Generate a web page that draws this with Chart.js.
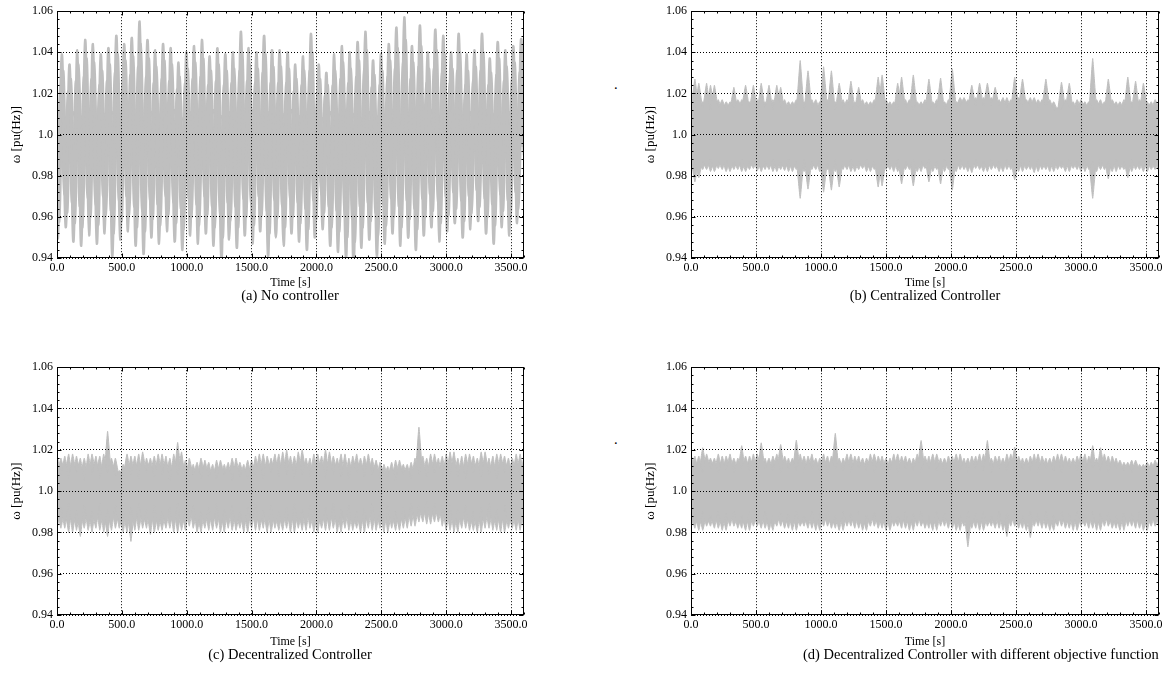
<!DOCTYPE html>
<html>
<head>
<meta charset="utf-8">
<script src="https://cdn.jsdelivr.net/npm/chart.js@4.4.1/dist/chart.umd.min.js"></script>
<style>
  html, body { margin: 0; padding: 0; background: #fff; width: 1163px; height: 688px; overflow: hidden; }
  .panel { position: absolute; }
  .cap { position: absolute; font: 14.5px "Liberation Serif", serif; line-height: 16px; white-space: nowrap; color: #000; }
</style>
</head>
<body>
<div class="panel" style="left:0px;top:0px;width:540px;height:292px"><canvas id="chartA"></canvas></div>
<div class="panel" style="left:634px;top:0px;width:545px;height:292px"><canvas id="chartB"></canvas></div>
<div class="panel" style="left:0px;top:356px;width:540px;height:295px"><canvas id="chartC"></canvas></div>
<div class="panel" style="left:634px;top:356px;width:545px;height:295px"><canvas id="chartD"></canvas></div>

<div class="cap" style="left:140px;top:287px;width:300px;text-align:center" id="capA"></div>
<div class="cap" style="left:775px;top:287px;width:300px;text-align:center" id="capB"></div>
<div class="cap" style="left:140px;top:646px;width:300px;text-align:center" id="capC"></div>
<div class="cap" style="left:803px;top:646px" id="capD"></div>
<div class="cap" style="left:614px;top:76px">.</div>
<div class="cap" style="left:614px;top:431px">.</div>

<script>
const captions = ["(a) No controller", "(b) Centralized Controller", "(c) Decentralized Controller",
  "(d) Decentralized Controller with different objective function"];
const xTicks = [0, 500, 1000, 1500, 2000, 2500, 3000, 3500];
const yTicks = [0.94, 0.96, 0.98, 1.0, 1.02, 1.04, 1.06];
const xTitle = "Time [s]";
const yTitle = "ω [pu(Hz)]";

// (a) no controller: troughs / peaks of the swing, read per cycle
const timeA = [0, 7, 37, 67, 97, 127, 157, 187, 217, 247, 277, 307, 337, 367, 397, 427, 457, 487, 517, 547, 577,
  607, 637, 667, 697, 727, 757, 787, 817, 847, 877, 907, 937, 967, 997, 1027, 1057, 1087, 1117, 1147, 1177,
  1207, 1237, 1267, 1297, 1327, 1357, 1387, 1417, 1447, 1477, 1507, 1537, 1567, 1597, 1627, 1657, 1687, 1717, 1747, 1777,
  1807, 1837, 1867, 1897, 1927, 1957, 1987, 2017, 2047, 2077, 2107, 2137, 2167, 2197, 2227, 2257, 2287, 2317, 2347, 2377,
  2407, 2437, 2467, 2497, 2527, 2557, 2587, 2617, 2647, 2677, 2707, 2737, 2767, 2797, 2827, 2857, 2887, 2917, 2947, 2977,
  3007, 3037, 3067, 3097, 3127, 3157, 3187, 3217, 3247, 3277, 3307, 3337, 3367, 3397, 3427, 3457, 3487, 3517, 3547, 3577, 3600];
// generators that swing a little later / earlier
const timeB = [0, 17, 47, 77, 107, 137, 167, 197, 227, 257, 287, 317, 347, 377, 407, 437, 467, 497, 527, 557, 587,
  617, 647, 677, 707, 737, 767, 797, 827, 857, 887, 917, 947, 977, 1007, 1037, 1067, 1097, 1127, 1157, 1187,
  1217, 1247, 1277, 1307, 1337, 1367, 1397, 1427, 1457, 1487, 1517, 1547, 1577, 1607, 1637, 1667, 1697, 1727, 1757, 1787,
  1817, 1847, 1877, 1907, 1937, 1967, 1997, 2027, 2057, 2087, 2117, 2147, 2177, 2207, 2237, 2267, 2297, 2327, 2357, 2387,
  2417, 2447, 2477, 2507, 2537, 2567, 2597, 2627, 2657, 2687, 2717, 2747, 2777, 2807, 2837, 2867, 2897, 2927, 2957, 2987,
  3017, 3047, 3077, 3107, 3137, 3167, 3197, 3227, 3257, 3287, 3317, 3347, 3377, 3407, 3437, 3467, 3497, 3527, 3557, 3587, 3600];
const timeC = [-10, -3, 27, 57, 87, 117, 147, 177, 207, 237, 267, 297, 327, 357, 387, 417, 447, 477, 507, 537, 567,
  597, 627, 657, 687, 717, 747, 777, 807, 837, 867, 897, 927, 957, 987, 1017, 1047, 1077, 1107, 1137, 1167,
  1197, 1227, 1257, 1287, 1317, 1347, 1377, 1407, 1437, 1467, 1497, 1527, 1557, 1587, 1617, 1647, 1677, 1707, 1737, 1767,
  1797, 1827, 1857, 1887, 1917, 1947, 1977, 2007, 2037, 2067, 2097, 2127, 2157, 2187, 2217, 2247, 2277, 2307, 2337, 2367,
  2397, 2427, 2457, 2487, 2517, 2547, 2577, 2607, 2637, 2667, 2697, 2727, 2757, 2787, 2817, 2847, 2877, 2907, 2937, 2967,
  2997, 3027, 3057, 3087, 3117, 3147, 3177, 3207, 3237, 3267, 3297, 3327, 3357, 3387, 3417, 3447, 3477, 3507, 3537, 3567, 3590];

const a1 = [1.000,
  0.950,1.039, 0.955,1.034, 0.948,1.041, 0.946,1.046, 0.951,1.044, 0.947,1.039, 0.952,1.042, 0.941,1.048, 0.949,1.044, 0.953,1.047,
  0.946,1.055, 0.942,1.046, 0.950,1.041, 0.947,1.044, 0.953,1.042, 0.948,1.035, 0.944,1.040, 0.951,1.043, 0.947,1.046, 0.952,1.038,
  0.946,1.042, 0.938,1.039, 0.949,1.040, 0.945,1.050, 0.951,1.042, 0.947,1.040, 0.953,1.048, 0.941,1.041, 0.950,1.041, 0.946,1.040,
  0.952,1.034, 0.948,1.038, 0.944,1.049, 0.950,1.034, 0.954,1.030, 0.946,1.039, 0.943,1.043, 0.939,1.040, 0.936,1.045, 0.945,1.050,
  0.949,1.036, 0.940,1.039, 0.947,1.044, 0.952,1.052, 0.946,1.057, 0.950,1.043, 0.944,1.053, 0.951,1.040, 0.955,1.051, 0.948,1.048,
  0.953,1.040, 0.957,1.049, 0.950,1.039, 0.954,1.041, 0.958,1.049, 0.952,1.037, 0.947,1.045, 0.955,1.041, 0.951,1.043, 0.957,1.046,
  0.990];
const a2 = [1.000,
  0.958,1.031, 0.962,1.027, 0.957,1.034, 0.955,1.037, 0.960,1.035, 0.956,1.031, 0.961,1.034, 0.952,1.039, 0.958,1.036, 0.961,1.038,
  0.955,1.044, 0.953,1.037, 0.959,1.033, 0.956,1.036, 0.961,1.034, 0.957,1.028, 0.954,1.032, 0.960,1.035, 0.956,1.037, 0.961,1.031,
  0.955,1.034, 0.950,1.031, 0.958,1.032, 0.955,1.040, 0.960,1.034, 0.956,1.032, 0.961,1.039, 0.952,1.033, 0.959,1.033, 0.955,1.032,
  0.960,1.027, 0.957,1.031, 0.954,1.040, 0.959,1.027, 0.962,1.024, 0.955,1.031, 0.953,1.035, 0.950,1.032, 0.948,1.036, 0.955,1.041,
  0.958,1.029, 0.951,1.031, 0.956,1.036, 0.960,1.042, 0.955,1.046, 0.959,1.035, 0.954,1.043, 0.960,1.032, 0.963,1.041, 0.957,1.039,
  0.961,1.032, 0.964,1.040, 0.958,1.031, 0.962,1.033, 0.965,1.040, 0.960,1.030, 0.956,1.037, 0.963,1.033, 0.959,1.035, 0.964,1.038,
  0.992];
const a3 = [1.000,
  0.968,1.024, 0.971,1.021, 0.967,1.026, 0.965,1.028, 0.969,1.027, 0.966,1.024, 0.970,1.026, 0.963,1.030, 0.968,1.027, 0.970,1.029,
  0.965,1.033, 0.963,1.028, 0.968,1.025, 0.966,1.027, 0.970,1.026, 0.967,1.022, 0.964,1.025, 0.969,1.027, 0.966,1.028, 0.970,1.024,
  0.965,1.026, 0.961,1.024, 0.967,1.025, 0.965,1.031, 0.969,1.026, 0.966,1.025, 0.970,1.030, 0.963,1.025, 0.968,1.025, 0.965,1.025,
  0.969,1.021, 0.967,1.024, 0.964,1.031, 0.968,1.021, 0.971,1.019, 0.965,1.024, 0.963,1.027, 0.961,1.025, 0.959,1.028, 0.965,1.032,
  0.967,1.023, 0.962,1.024, 0.966,1.028, 0.969,1.032, 0.965,1.035, 0.968,1.027, 0.964,1.033, 0.969,1.025, 0.971,1.032, 0.967,1.030,
  0.970,1.025, 0.972,1.031, 0.968,1.024, 0.970,1.026, 0.973,1.031, 0.969,1.024, 0.966,1.029, 0.971,1.026, 0.968,1.027, 0.972,1.030,
  0.994];
const a4 = [1.000,
  0.980,1.016, 0.982,1.014, 0.979,1.018, 0.978,1.019, 0.981,1.018, 0.979,1.016, 0.981,1.017, 0.977,1.020, 0.980,1.018, 0.981,1.019,
  0.978,1.022, 0.977,1.019, 0.980,1.017, 0.979,1.018, 0.981,1.017, 0.979,1.015, 0.978,1.017, 0.981,1.018, 0.979,1.019, 0.981,1.016,
  0.978,1.017, 0.976,1.016, 0.980,1.017, 0.978,1.020, 0.981,1.017, 0.979,1.017, 0.981,1.020, 0.977,1.017, 0.980,1.017, 0.978,1.017,
  0.981,1.014, 0.979,1.016, 0.978,1.020, 0.980,1.014, 0.982,1.013, 0.978,1.016, 0.977,1.018, 0.976,1.017, 0.975,1.019, 0.978,1.021,
  0.979,1.015, 0.976,1.016, 0.979,1.019, 0.980,1.021, 0.978,1.023, 0.980,1.018, 0.978,1.022, 0.980,1.017, 0.982,1.021, 0.979,1.020,
  0.981,1.017, 0.982,1.021, 0.980,1.016, 0.981,1.017, 0.983,1.021, 0.981,1.016, 0.979,1.019, 0.982,1.017, 0.980,1.018, 0.982,1.020,
  0.998];
const a5 = [1.005,
  1.010,1.001, 1.008,0.999, 1.011,1.002, 1.009,1.000, 1.012,1.003, 1.008,0.998, 1.010,1.001, 1.011,1.002, 1.009,0.999, 1.012,1.003,
  1.010,1.000, 1.008,1.001, 1.011,1.002, 1.009,0.999, 1.010,1.003, 1.012,1.001, 1.008,1.000, 1.011,1.002, 1.009,0.998, 1.010,1.001,
  1.012,1.003, 1.009,1.000, 1.011,1.002, 1.008,0.999, 1.010,1.001, 1.012,1.003, 1.009,1.000, 1.011,1.002, 1.008,0.999, 1.010,1.001,
  1.012,1.003, 1.009,1.000, 1.011,1.002, 1.010,0.999, 1.008,1.001, 1.011,1.003, 1.009,1.000, 1.012,1.002, 1.010,0.998, 1.008,1.001,
  1.011,1.003, 1.009,1.000, 1.010,1.002, 1.012,0.999, 1.009,1.001, 1.011,1.003, 1.008,1.000, 1.010,1.002, 1.012,0.999, 1.009,1.001,
  1.011,1.003, 1.010,1.000, 1.008,1.002, 1.011,0.999, 1.009,1.001, 1.012,1.003, 1.010,1.000, 1.008,1.002, 1.011,0.999, 1.009,1.001,
  1.004];

// (b)-(d): upper / lower edges of the dense band, every 30 s
const gridT = [0, 30, 60, 90, 120, 150, 180, 210, 240, 270, 300, 330, 360, 390, 420, 450, 480, 510, 540, 570,
  600, 630, 660, 690, 720, 750, 780, 810, 840, 870, 900, 930, 960, 990, 1020, 1050, 1080, 1110, 1140, 1170,
  1200, 1230, 1260, 1290, 1320, 1350, 1380, 1410, 1440, 1470, 1500, 1530, 1560, 1590, 1620, 1650, 1680, 1710, 1740, 1770,
  1800, 1830, 1860, 1890, 1920, 1950, 1980, 2010, 2040, 2070, 2100, 2130, 2160, 2190, 2220, 2250, 2280, 2310, 2340, 2370,
  2400, 2430, 2460, 2490, 2520, 2550, 2580, 2610, 2640, 2670, 2700, 2730, 2760, 2790, 2820, 2850, 2880, 2910, 2940, 2970,
  3000, 3030, 3060, 3090, 3120, 3150, 3180, 3210, 3240, 3270, 3300, 3330, 3360, 3390, 3420, 3450, 3480, 3510, 3540, 3570, 3600];

const bU1 = [1.017,1.013,1.025,1.013,1.025,1.012,1.024,1.013,1.017,1.012,
  1.016,1.013,1.017,1.014,1.024,1.013,1.024,1.012,1.025,1.013,
  1.024,1.012,1.024,1.013,1.017,1.012,1.016,1.013,1.036,1.012,
  1.031,1.013,1.017,1.012,1.033,1.013,1.031,1.012,1.025,1.013,
  1.017,1.012,1.016,1.013,1.017,1.012,1.016,1.013,1.028,1.012,
  1.017,1.013,1.016,1.012,1.028,1.013,1.017,1.012,1.016,1.013,
  1.017,1.012,1.016,1.013,1.0275,1.012,1.017,1.013,1.016,1.014,
  1.018,1.014,1.024,1.014,1.025,1.014,1.025,1.014,1.023,1.014,
  1.018,1.013,1.017,1.013,1.018,1.014,1.017,1.014,1.018,1.013,
  1.017,1.014,1.017,1.012,1.013,1.012,1.017,1.013,1.016,1.012,
  1.017,1.013,1.016,1.012,1.017,1.013,1.016,1.012,1.017,1.013,
  1.016,1.012,1.028,1.013,1.026,1.012,1.025,1.013,1.016,1.012,
  1.016];
const bU2 = [1.012,1.027,1.013,1.016,1.012,1.024,1.013,1.017,1.012,1.016,
  1.013,1.023,1.012,1.017,1.013,1.016,1.012,1.017,1.013,1.016,
  1.012,1.017,1.013,1.023,1.012,1.016,1.013,1.017,1.012,1.016,
  1.013,1.017,1.012,1.016,1.013,1.017,1.012,1.016,1.013,1.017,
  1.012,1.026,1.013,1.023,1.012,1.016,1.013,1.017,1.012,1.029,
  1.013,1.016,1.012,1.025,1.013,1.017,1.012,1.029,1.013,1.016,
  1.012,1.027,1.013,1.017,1.012,1.016,1.013,1.032,1.014,1.018,
  1.014,1.017,1.014,1.018,1.014,1.018,1.014,1.018,1.014,1.017,
  1.013,1.018,1.013,1.028,1.014,1.027,1.014,1.018,1.013,1.017,
  1.014,1.027,1.013,1.016,1.012,1.0255,1.013,1.025,1.012,1.017,
  1.013,1.016,1.012,1.037,1.013,1.017,1.012,1.027,1.013,1.016,
  1.012,1.017,1.013,1.016,1.012,1.017,1.013,1.016,1.012,1.017,
  1.013];
const bL1 = [0.983,0.987,0.979,0.987,0.983,0.988,0.982,0.987,0.983,0.988,
  0.982,0.987,0.983,0.988,0.982,0.987,0.9835,0.988,0.982,0.987,
  0.983,0.988,0.982,0.987,0.9825,0.988,0.982,0.987,0.969,0.988,
  0.9735,0.987,0.983,0.988,0.972,0.987,0.973,0.988,0.9745,0.987,
  0.983,0.988,0.982,0.987,0.9835,0.988,0.982,0.987,0.9745,0.988,
  0.983,0.987,0.982,0.988,0.976,0.987,0.983,0.988,0.982,0.987,
  0.9835,0.988,0.982,0.987,0.976,0.988,0.983,0.987,0.982,0.988,
  0.983,0.987,0.9815,0.988,0.983,0.987,0.982,0.988,0.9835,0.987,
  0.982,0.988,0.983,0.987,0.982,0.988,0.983,0.987,0.9815,0.988,
  0.983,0.987,0.982,0.988,0.983,0.987,0.982,0.988,0.9835,0.987,
  0.982,0.988,0.983,0.987,0.982,0.988,0.983,0.987,0.982,0.988,
  0.983,0.987,0.979,0.988,0.983,0.987,0.982,0.988,0.983,0.987,
  0.982];
const bL2 = [0.988,0.977,0.987,0.983,0.988,0.982,0.987,0.9835,0.988,0.982,
  0.987,0.983,0.988,0.982,0.987,0.983,0.988,0.9825,0.987,0.983,
  0.988,0.982,0.987,0.983,0.988,0.982,0.987,0.983,0.988,0.982,
  0.987,0.983,0.988,0.982,0.987,0.983,0.988,0.982,0.987,0.983,
  0.988,0.982,0.987,0.983,0.988,0.982,0.987,0.983,0.988,0.975,
  0.987,0.983,0.988,0.982,0.987,0.983,0.988,0.975,0.987,0.982,
  0.988,0.977,0.987,0.983,0.988,0.982,0.987,0.973,0.988,0.983,
  0.987,0.982,0.988,0.9835,0.987,0.982,0.988,0.983,0.987,0.982,
  0.988,0.983,0.987,0.978,0.988,0.982,0.987,0.983,0.988,0.982,
  0.987,0.983,0.988,0.982,0.987,0.9835,0.988,0.982,0.987,0.983,
  0.988,0.982,0.987,0.969,0.988,0.983,0.987,0.9785,0.988,0.982,
  0.987,0.983,0.988,0.982,0.987,0.983,0.988,0.982,0.987,0.983,
  0.988];

const cU1 = [1.018,1.008,1.017,1.006,1.018,1.009,1.016,1.005,1.018,1.008,
  1.017,1.006,1.018,1.009,1.016,1.007,1.010,1.008,1.018,1.008,
  1.017,1.006,1.019,1.009,1.016,1.007,1.018,1.008,1.017,1.005,
  1.018,1.008,1.019,1.006,1.016,1.008,1.014,1.006,1.015,1.007,
  1.013,1.006,1.015,1.008,1.014,1.005,1.016,1.007,1.013,1.006,
  1.015,1.008,1.018,1.006,1.017,1.009,1.018,1.007,1.019,1.008,
  1.017,1.006,1.019,1.008,1.016,1.007,1.018,1.009,1.017,1.006,
  1.019,1.008,1.016,1.007,1.018,1.006,1.017,1.009,1.016,1.007,
  1.018,1.008,1.015,1.006,1.013,1.007,1.014,1.005,1.015,1.008,
  1.013,1.006,1.016,1.008,1.017,1.007,1.018,1.009,1.016,1.006,
  1.018,1.008,1.019,1.007,1.017,1.006,1.018,1.009,1.016,1.007,
  1.019,1.008,1.017,1.006,1.018,1.009,1.016,1.007,1.018,1.008,
  1.017];
const cU2 = [1.007,1.016,1.009,1.018,1.006,1.017,1.008,1.016,1.007,1.018,
  1.009,1.017,1.006,1.029,1.008,1.016,1.007,1.013,1.007,1.017,
  1.008,1.018,1.006,1.016,1.009,1.017,1.007,1.018,1.008,1.016,
  1.006,1.0236,1.008,1.015,1.007,1.013,1.006,1.016,1.008,1.014,
  1.005,1.015,1.007,1.013,1.006,1.016,1.008,1.014,1.007,1.015,
  1.006,1.017,1.008,1.018,1.007,1.016,1.009,1.018,1.006,1.020,
  1.008,1.017,1.007,1.020,1.009,1.016,1.006,1.018,1.008,1.020,
  1.007,1.017,1.009,1.018,1.006,1.016,1.008,1.018,1.007,1.017,
  1.008,1.016,1.006,1.014,1.007,1.012,1.005,1.015,1.008,1.013,
  1.006,1.014,1.007,1.031,1.008,1.016,1.006,1.018,1.009,1.017,
  1.007,1.019,1.008,1.016,1.006,1.018,1.009,1.017,1.007,1.019,
  1.008,1.016,1.006,1.018,1.009,1.017,1.007,1.016,1.008,1.018,
  1.006];
const cL1 = [0.981,0.992,0.982,0.994,0.980,0.991,0.978,0.993,0.981,0.990,
  0.982,0.994,0.980,0.991,0.981,0.993,0.982,0.990,0.980,0.992,
  0.981,0.994,0.982,0.991,0.979,0.993,0.981,0.990,0.982,0.992,
  0.980,0.994,0.981,0.991,0.983,0.993,0.980,0.990,0.982,0.992,
  0.981,0.994,0.980,0.991,0.982,0.993,0.981,0.990,0.980,0.992,
  0.982,0.994,0.981,0.991,0.980,0.993,0.982,0.990,0.981,0.992,
  0.980,0.994,0.982,0.991,0.981,0.993,0.980,0.990,0.982,0.992,
  0.981,0.994,0.980,0.991,0.982,0.993,0.981,0.990,0.980,0.992,
  0.982,0.994,0.981,0.991,0.980,0.993,0.982,0.990,0.981,0.992,
  0.982,0.994,0.983,0.993,0.985,0.995,0.984,0.994,0.985,0.993,
  0.981,0.994,0.980,0.991,0.982,0.993,0.981,0.990,0.980,0.992,
  0.982,0.994,0.981,0.991,0.980,0.993,0.982,0.990,0.981,0.992,
  0.981];
const cL2 = [0.993,0.982,0.991,0.980,0.994,0.981,0.990,0.982,0.992,0.980,
  0.993,0.981,0.991,0.978,0.994,0.982,0.990,0.980,0.992,0.9756,
  0.993,0.981,0.991,0.982,0.994,0.980,0.990,0.981,0.992,0.982,
  0.993,0.980,0.991,0.981,0.994,0.982,0.990,0.980,0.992,0.981,
  0.993,0.982,0.991,0.980,0.994,0.981,0.990,0.982,0.992,0.980,
  0.993,0.981,0.991,0.982,0.994,0.980,0.990,0.981,0.992,0.982,
  0.993,0.980,0.991,0.981,0.994,0.982,0.990,0.980,0.992,0.981,
  0.993,0.982,0.991,0.980,0.994,0.981,0.990,0.982,0.992,0.980,
  0.993,0.981,0.991,0.982,0.994,0.980,0.990,0.981,0.992,0.982,
  0.993,0.983,0.994,0.985,0.995,0.984,0.994,0.985,0.995,0.983,
  0.993,0.981,0.991,0.980,0.994,0.982,0.990,0.981,0.992,0.980,
  0.993,0.982,0.991,0.981,0.994,0.980,0.990,0.982,0.992,0.981,
  0.993];

const dU1 = [1.018,1.010,1.017,1.009,1.018,1.011,1.016,1.009,1.017,1.010,
  1.018,1.009,1.016,1.011,1.017,1.010,1.018,1.009,1.0234,1.011,
  1.016,1.010,1.018,1.009,1.017,1.011,1.016,1.010,1.018,1.009,
  1.017,1.011,1.016,1.010,1.018,1.009,1.017,1.011,1.016,1.010,
  1.018,1.009,1.017,1.011,1.016,1.010,1.018,1.009,1.017,1.011,
  1.016,1.010,1.018,1.009,1.017,1.011,1.016,1.010,1.018,1.009,
  1.017,1.011,1.018,1.010,1.016,1.009,1.017,1.011,1.018,1.010,
  1.016,1.009,1.017,1.011,1.018,1.010,1.0245,1.009,1.017,1.011,
  1.016,1.010,1.018,1.009,1.017,1.011,1.016,1.010,1.018,1.009,
  1.017,1.011,1.016,1.010,1.018,1.009,1.017,1.011,1.016,1.010,
  1.018,1.009,1.017,1.011,1.016,1.010,1.018,1.009,1.017,1.011,
  1.015,1.010,1.014,1.009,1.015,1.010,1.013,1.009,1.014,1.010,
  1.015];
const dU2 = [1.010,1.017,1.009,1.021,1.011,1.016,1.010,1.018,1.009,1.017,
  1.011,1.016,1.010,1.022,1.009,1.017,1.011,1.018,1.010,1.016,
  1.009,1.017,1.011,1.0226,1.010,1.016,1.009,1.0247,1.011,1.017,
  1.010,1.018,1.009,1.016,1.011,1.017,1.010,1.028,1.009,1.016,
  1.011,1.018,1.010,1.017,1.009,1.016,1.011,1.018,1.010,1.017,
  1.009,1.016,1.011,1.018,1.010,1.017,1.009,1.016,1.011,1.0245,
  1.010,1.017,1.009,1.018,1.011,1.016,1.010,1.017,1.009,1.018,
  1.011,1.016,1.010,1.017,1.009,1.018,1.011,1.016,1.010,1.017,
  1.009,1.018,1.011,1.0213,1.010,1.016,1.009,1.017,1.011,1.018,
  1.010,1.016,1.009,1.017,1.011,1.018,1.010,1.016,1.009,1.017,
  1.011,1.018,1.010,1.022,1.009,1.021,1.011,1.017,1.010,1.016,
  1.009,1.014,1.010,1.015,1.009,1.013,1.010,1.014,1.009,1.015,
  1.010];
const dL1 = [0.982,0.989,0.981,0.990,0.983,0.988,0.982,0.990,0.981,0.989,
  0.983,0.990,0.982,0.988,0.981,0.990,0.983,0.989,0.982,0.990,
  0.981,0.988,0.983,0.990,0.982,0.989,0.981,0.990,0.983,0.988,
  0.982,0.990,0.981,0.989,0.983,0.990,0.982,0.988,0.981,0.990,
  0.983,0.989,0.982,0.990,0.981,0.988,0.983,0.990,0.982,0.989,
  0.981,0.990,0.983,0.988,0.982,0.990,0.981,0.989,0.983,0.990,
  0.982,0.988,0.981,0.990,0.983,0.989,0.982,0.990,0.981,0.988,
  0.983,0.990,0.982,0.989,0.981,0.990,0.983,0.988,0.982,0.990,
  0.981,0.989,0.983,0.990,0.982,0.988,0.981,0.990,0.983,0.989,
  0.982,0.990,0.981,0.988,0.983,0.990,0.982,0.989,0.981,0.990,
  0.983,0.988,0.982,0.990,0.981,0.989,0.983,0.990,0.982,0.988,
  0.981,0.990,0.983,0.989,0.982,0.990,0.981,0.988,0.983,0.990,
  0.982];
const dL2 = [0.989,0.982,0.990,0.981,0.988,0.983,0.990,0.982,0.989,0.981,
  0.990,0.983,0.988,0.982,0.990,0.981,0.989,0.983,0.990,0.982,
  0.988,0.981,0.990,0.983,0.989,0.982,0.990,0.981,0.988,0.983,
  0.990,0.982,0.989,0.981,0.990,0.983,0.988,0.982,0.990,0.981,
  0.989,0.983,0.990,0.982,0.988,0.981,0.990,0.983,0.989,0.982,
  0.990,0.981,0.988,0.983,0.990,0.982,0.989,0.981,0.990,0.983,
  0.988,0.982,0.990,0.981,0.989,0.983,0.990,0.982,0.988,0.981,
  0.990,0.973,0.989,0.982,0.990,0.981,0.988,0.983,0.990,0.982,
  0.989,0.978,0.990,0.983,0.988,0.982,0.990,0.9775,0.989,0.983,
  0.990,0.982,0.988,0.981,0.990,0.983,0.989,0.982,0.990,0.981,
  0.988,0.983,0.990,0.982,0.989,0.981,0.990,0.983,0.988,0.982,
  0.990,0.981,0.989,0.983,0.990,0.982,0.988,0.981,0.990,0.983,
  0.989];

const GREY = "#bfbfbf";
const FONT = "'Liberation Serif', 'Times New Roman', serif";

function pts(times, vals) {
  return times.map((t, i) => ({ x: t, y: vals[i] }));
}

function lineSet(times, vals, width) {
  return { data: pts(times, vals), borderColor: GREY, borderWidth: width, tension: 0.4, fill: false };
}

function bandSet(times, vals) {
  return { data: pts(times, vals), borderColor: GREY, backgroundColor: GREY, borderWidth: 1,
    tension: 0.1, fill: { value: 1.0 } };
}

// black frame with inward tick marks, like the matplotlib axes
const framePlugin = {
  id: "frame",
  afterDraw(chart) {
    const { ctx, chartArea: a, scales } = chart;
    const L = Math.round(a.left) + 0.5, R = Math.round(a.right) - 0.5;
    const T = Math.round(a.top) + 0.5, B = Math.round(a.bottom) - 0.5;
    ctx.save();
    ctx.strokeStyle = "#000";
    ctx.lineWidth = 1;
    ctx.beginPath();
    for (let v = 0; v <= 3600; v += 100) {
      const px = Math.round(scales.x.getPixelForValue(v)) + 0.5;
      const len = v % 500 === 0 ? 4 : 2;
      ctx.moveTo(px, B); ctx.lineTo(px, B - len);
      ctx.moveTo(px, T); ctx.lineTo(px, T + len);
    }
    for (let k = 0; k <= 30; k++) {
      const v = 0.94 + k * 0.004;
      const py = Math.round(scales.y.getPixelForValue(v)) + 0.5;
      const len = k % 5 === 0 ? 4 : 2;
      ctx.moveTo(L, py); ctx.lineTo(L + len, py);
      ctx.moveTo(R, py); ctx.lineTo(R - len, py);
    }
    ctx.stroke();
    ctx.strokeRect(L, T, R - L, B - T);
    ctx.restore();
  }
};

function makeChart(id, datasets, padRight, xAxisH) {
  return new Chart(document.getElementById(id), {
    type: "line",
    data: { datasets },
    plugins: [framePlugin],
    options: {
      animation: false,
      responsive: true,
      maintainAspectRatio: false,
      layout: { padding: { top: 10, right: padRight, left: 0, bottom: 0 } },
      plugins: { legend: { display: false }, tooltip: { enabled: false } },
      elements: { point: { radius: 0 } },
      scales: {
        x: {
          type: "linear", min: 0, max: 3600,
          afterBuildTicks: s => { s.ticks = xTicks.map(v => ({ value: v })); },
          afterFit: s => { s.height = xAxisH; },
          grid: { color: "#000", lineWidth: 1, drawTicks: false, z: 1 },
          border: { display: false, dash: [1, 2] },
          ticks: { padding: 3, color: "#000", autoSkip: false, maxRotation: 0,
            font: { family: FONT, size: 12 }, callback: v => Number(v).toFixed(1) },
          title: { display: true, text: xTitle, color: "#000", font: { family: FONT, size: 12 },
            padding: { top: 0, bottom: 2 } }
        },
        y: {
          type: "linear", min: 0.94, max: 1.06,
          afterBuildTicks: s => { s.ticks = yTicks.map(v => ({ value: v })); },
          afterFit: s => { s.width = 57; },
          grid: { color: "#000", lineWidth: 1, drawTicks: false, z: 1 },
          border: { display: false, dash: [1, 2] },
          ticks: { padding: 4, color: "#000", font: { family: FONT, size: 12 },
            callback: v => (v === 1 ? "1.0" : Number(v).toFixed(2)) },
          title: { display: true, text: yTitle, color: "#000", font: { family: FONT, size: 13 },
            padding: { top: 9, bottom: 0 } }
        }
      }
    }
  });
}

makeChart("chartA", [
  lineSet(timeA, a1, 2.6), lineSet(timeB, a2, 2.6), lineSet(timeC, a3, 2.6),
  lineSet(timeB, a4, 2.6), lineSet(timeA, a5, 2.0)
], 16, 34);
makeChart("chartB", [bU1, bU2, bL1, bL2].map(v => bandSet(gridT, v)), 20, 34);
makeChart("chartC", [cU1, cU2, cL1, cL2].map(v => bandSet(gridT, v)), 16, 36);
makeChart("chartD", [dU1, dU2, dL1, dL2].map(v => bandSet(gridT, v)), 20, 36);

["capA", "capB", "capC", "capD"].forEach((id, i) => {
  document.getElementById(id).textContent = captions[i];
});
</script>
</body>
</html>
